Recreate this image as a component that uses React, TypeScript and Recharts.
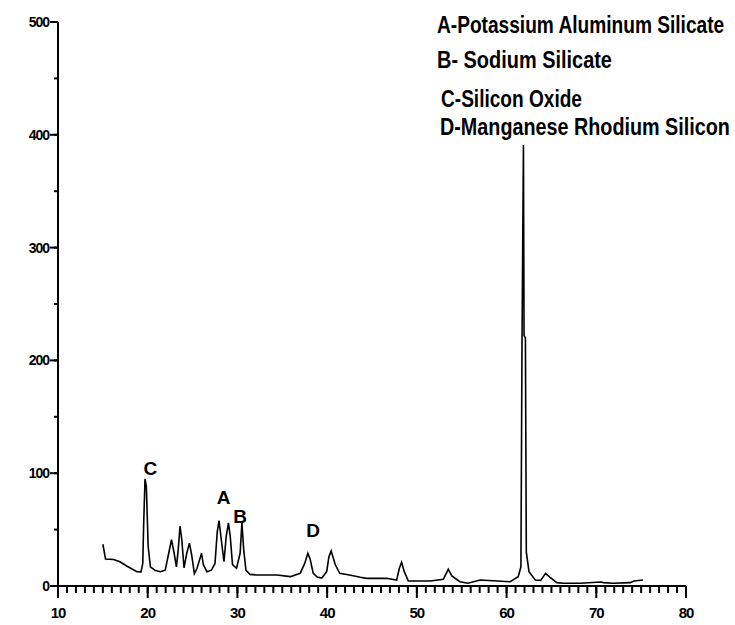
import { LineChart, Line, XAxis, YAxis, ReferenceDot } from "recharts";

// 2-theta positions and intensities
const twoTheta = [
  15.0, 15.3, 16.2, 16.9, 17.7, 18.8, 19.25, 19.45, 19.55, 19.7, 19.85, 20.05,
  20.3, 20.8, 21.4, 21.95, 22.3, 22.65, 22.95, 23.2, 23.4, 23.6, 23.8, 24.05,
  24.35, 24.65, 24.9, 25.2, 25.5, 26.0, 26.2, 26.6, 27.1, 27.5, 27.75, 27.95,
  28.2, 28.5, 28.75, 29.0, 29.2, 29.45, 29.9, 30.3, 30.5, 30.7, 30.95, 31.4,
  32.2, 34.4, 35.9, 37.0, 37.5, 37.85, 38.1, 38.45, 38.9, 39.4, 39.95, 40.2,
  40.45, 40.9, 41.4, 42.5, 43.7, 44.4, 46.6, 47.75, 48.05, 48.3, 48.6, 49.05,
  51.5, 52.95, 53.5, 53.9, 54.8, 55.7, 57.05, 58.5, 60.4, 61.3, 61.6, 61.72,
  61.88, 61.95, 62.1, 62.2, 62.5, 63.2, 63.8, 64.35, 64.85, 65.6, 66.3, 68.2,
  70.5, 70.8, 71.9, 73.8, 74.2, 75.2,
];
const intensity = [
  37, 24, 23.5, 21.5, 17.5, 12.7, 12.5, 20, 55, 95, 88, 35,
  17, 14, 12.7, 14, 27.5, 41, 29, 17, 32, 53, 41, 16,
  29, 38, 27.5, 11, 15.7, 29, 19, 12.7, 14, 20, 48, 58,
  41, 21.5, 44, 56, 44, 19, 15.7, 29, 56, 32, 14, 10.3,
  9.8, 9.8, 8.3, 11.2, 20, 29, 24, 11.2, 8, 7, 12.7, 26,
  31, 19, 11.2, 9.8, 7.7, 6.8, 6.8, 5.3, 15.7, 21, 12.7, 4.4,
  4.4, 5.9, 14.8, 9, 3.8, 2.4, 5.3, 4.7, 3.8, 8.3, 17, 214,
  391, 222, 220, 30, 12.7, 5.3, 5, 11.2, 7.7, 3, 2.4, 2.4,
  3.5, 3, 2.4, 3, 4.4, 5.3,
];

const xTicks = Array.from({ length: 71 }, (_, i) => 10 + i);
const yTicks = [0, 50, 100, 150, 200, 250, 300, 350, 400, 450, 500];

const peakLetters = ["C", "A", "B", "D"];
const peakX = [20.3, 28.45, 30.3, 38.45];
const peakY = [105, 79, 62, 50];

const legendLines = [
  "A-Potassium Aluminum Silicate",
  "B- Sodium Silicate",
  "C-Silicon Oxide",
  "D-Manganese Rhodium Silicon",
];

const data = twoTheta.map((t, i) => ({ t, v: intensity[i] }));

const FONT = '"Liberation Sans", Arial, sans-serif';
const LEGEND_SIZE = 23;

// measure so the legend can be squeezed like the original
let ctx: CanvasRenderingContext2D | null = null;
function textWidth(s: string) {
  if (!ctx) ctx = document.createElement("canvas").getContext("2d");
  if (!ctx) return s.length * LEGEND_SIZE * 0.55;
  ctx.font = `bold ${LEGEND_SIZE}px "Liberation Sans", Arial, sans-serif`;
  return ctx.measureText(s).width;
}

// built-in tick lines give the minor marks; majors are lengthened here
const renderXTick = (props: any) => {
  const { x, y, payload } = props;
  const major = payload.value % 10 === 0;
  return (
    <g key={`x-${payload.value}`}>
      {major && <line x1={x} x2={x} y1={y - 7} y2={y + 5} stroke="#000" strokeWidth={2} />}
      {major && (
        <text x={x} y={y + 25} textAnchor="middle" fontFamily={FONT} fontWeight="bold" fontSize={15} letterSpacing={-1} fill="#000">
          {payload.value}
        </text>
      )}
    </g>
  );
};

const renderYTick = (props: any) => {
  const { x, y, payload } = props;
  const major = payload.value % 100 === 0;
  return (
    <g key={`y-${payload.value}`}>
      {major && <line x1={x + 4} x2={x - 4} y1={y} y2={y} stroke="#000" strokeWidth={2} />}
      {major && (
        <text x={x - 5} y={y + 5} textAnchor="end" fontFamily={FONT} fontWeight="bold" fontSize={14} letterSpacing={-1} fill="#000">
          {payload.value}
        </text>
      )}
    </g>
  );
};

const legendX = [437, 437, 441, 440];
const legendBase = [33, 68, 107, 135];
const legendLen = [288, 175, 141, 290];

export default function App() {
  return (
    <div style={{ position: "absolute", left: 0, top: 0, width: 735, height: 625, background: "#fff" }}>
      <LineChart width={735} height={625} data={data} margin={{ top: 22, right: 49, left: 0, bottom: 0 }}>
        <XAxis
          dataKey="t"
          type="number"
          domain={[10, 80]}
          ticks={xTicks}
          interval={0}
          height={39}
          tickSize={7}
          tickMargin={0}
          tickLine={{ stroke: "#000", strokeWidth: 2 }}
          tick={renderXTick}
          stroke="#000"
          axisLine={{ stroke: "#000", strokeWidth: 2 }}
        />
        <YAxis
          type="number"
          domain={[0, 500]}
          ticks={yTicks}
          interval={0}
          width={58}
          tickSize={4}
          tickMargin={0}
          tickLine={{ stroke: "#000", strokeWidth: 2 }}
          tick={renderYTick}
          stroke="#000"
          axisLine={{ stroke: "#000", strokeWidth: 2 }}
        />
        <Line
          type="linear"
          dataKey="v"
          stroke="#000"
          strokeWidth={1.6}
          dot={false}
          isAnimationActive={false}
        />
        {peakLetters.map((p, i) => (
          <ReferenceDot
            key={p}
            x={peakX[i]}
            y={peakY[i]}
            r={0}
            shape={(props: any) => (
              <text x={props.cx} y={props.cy + 7} textAnchor="middle" fontFamily={FONT} fontWeight="bold" fontSize={19} fill="#000">
                {p}
              </text>
            )}
          />
        ))}
        {legendLines.map((s, i) => (
          <text
            key={s}
            transform={`translate(${legendX[i]},${legendBase[i]}) scale(${legendLen[i] / textWidth(s)},1)`}
            fontFamily={FONT}
            fontWeight="bold"
            fontSize={LEGEND_SIZE}
            fill="#000"
          >
            {s}
          </text>
        ))}
      </LineChart>
    </div>
  );
}
